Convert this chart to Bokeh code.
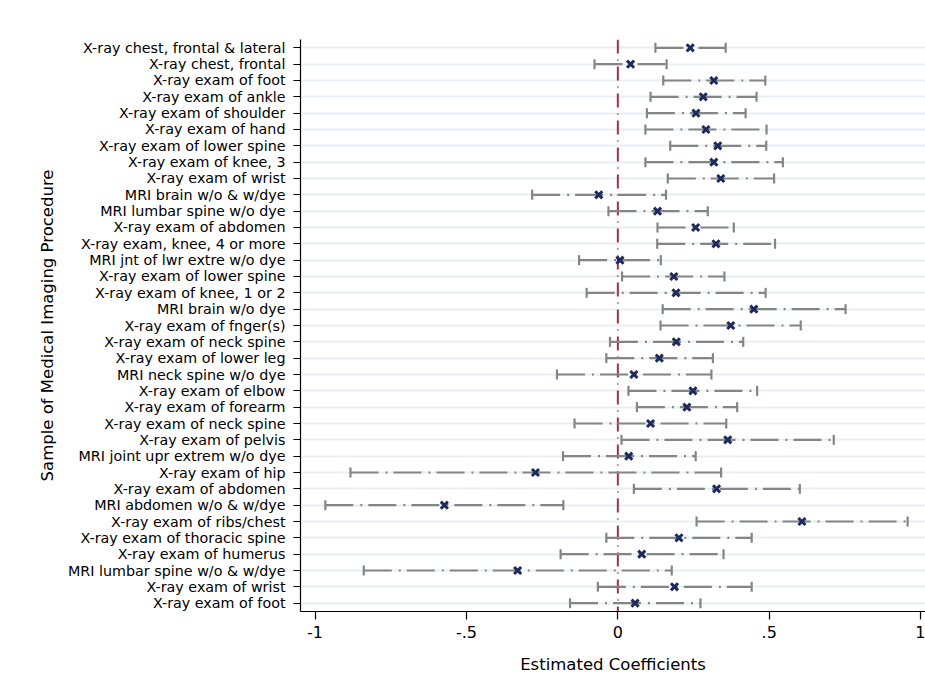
from bokeh.plotting import figure
from bokeh.models import (ColumnDataSource, Whisker, TeeHead, Span, Range1d,
                          FixedTicker, CustomJSTickFormatter)
from bokeh.embed import file_html
from bokeh.resources import INLINE

labels = [
    "X-ray chest, frontal & lateral",
    "X-ray chest, frontal",
    "X-ray exam of foot",
    "X-ray exam of ankle",
    "X-ray exam of shoulder",
    "X-ray exam of hand",
    "X-ray exam of lower spine",
    "X-ray exam of knee, 3",
    "X-ray exam of wrist",
    "MRI brain w/o & w/dye",
    "MRI lumbar spine w/o dye",
    "X-ray exam of abdomen",
    "X-ray exam, knee, 4 or more",
    "MRI jnt of lwr extre w/o dye",
    "X-ray exam of lower spine",
    "X-ray exam of knee, 1 or 2",
    "MRI brain w/o dye",
    "X-ray exam of fnger(s)",
    "X-ray exam of neck spine",
    "X-ray exam of lower leg",
    "MRI neck spine w/o dye",
    "X-ray exam of elbow",
    "X-ray exam of forearm",
    "X-ray exam of neck spine",
    "X-ray exam of pelvis",
    "MRI joint upr extrem w/o dye",
    "X-ray exam of hip",
    "X-ray exam of abdomen",
    "MRI abdomen w/o & w/dye",
    "X-ray exam of ribs/chest",
    "X-ray exam of thoracic spine",
    "X-ray exam of humerus",
    "MRI lumbar spine w/o & w/dye",
    "X-ray exam of wrist",
    "X-ray exam of foot",
]

coef = [0.239, 0.042, 0.317, 0.282, 0.258, 0.291, 0.330, 0.317, 0.340, -0.063,
        0.131, 0.257, 0.324, 0.007, 0.185, 0.192, 0.449, 0.373, 0.193, 0.137,
        0.053, 0.248, 0.228, 0.108, 0.363, 0.036, -0.272, 0.326, -0.573, 0.608,
        0.202, 0.079, -0.331, 0.187, 0.057]

ci_low = [0.124, -0.077, 0.150, 0.108, 0.096, 0.091, 0.173, 0.091, 0.165, -0.283,
          -0.031, 0.131, 0.130, -0.128, 0.014, -0.103, 0.148, 0.141, -0.026, -0.038,
          -0.201, 0.035, 0.063, -0.143, 0.012, -0.181, -0.883, 0.053, -0.966, 0.260,
          -0.038, -0.189, -0.839, -0.066, -0.158]

ci_high = [0.356, 0.161, 0.487, 0.458, 0.422, 0.491, 0.490, 0.545, 0.516, 0.159,
           0.297, 0.383, 0.519, 0.142, 0.352, 0.488, 0.752, 0.604, 0.414, 0.314,
           0.309, 0.460, 0.394, 0.358, 0.713, 0.257, 0.341, 0.601, -0.180, 0.957,
           0.442, 0.349, 0.178, 0.442, 0.273]

x_ticks = [-1, -0.5, 0, 0.5, 1]

n = len(labels)
ypos = [n - i for i in range(n)]

src = ColumnDataSource(dict(y=ypos, coef=coef, lo=ci_low, hi=ci_high))

FONT = "DejaVu Sans"
GRAY = "#858585"
NAVY = "#1c2b5c"

p = figure(width=925, height=700, output_backend="svg", toolbar_location=None,
           x_range=Range1d(-1.048, 1.016), y_range=Range1d(0.49, 35.51),
           min_border_left=300, min_border_top=39, min_border_bottom=89,
           min_border_right=0)
p.outline_line_color = None
p.background_fill_color = "white"
p.border_fill_color = "white"

# axes
p.xaxis.ticker = FixedTicker(ticks=x_ticks)
p.xaxis.formatter = CustomJSTickFormatter(
    code="if (tick == 0) { return '0'; } return tick.toString().replace('0.', '.');")
p.yaxis.ticker = FixedTicker(ticks=ypos)
p.yaxis.major_label_overrides = {y: lab for y, lab in zip(ypos, labels)}

for ax in (p.xaxis, p.yaxis):
    ax.axis_line_color = "black"
    ax.axis_line_width = 1.2
    ax.major_tick_line_color = "black"
    ax.major_tick_line_width = 1.2
    ax.minor_tick_line_color = None
    ax.major_tick_in = 0
    ax.major_label_text_font = FONT
    ax.major_label_text_color = "black"
    ax.axis_label_text_font = FONT
    ax.axis_label_text_font_style = "normal"
    ax.axis_label_text_color = "black"

p.xaxis.major_tick_out = 8
p.xaxis.major_label_text_font_size = "16px"
p.xaxis.major_label_standoff = 6
p.xaxis.axis_label = "Estimated Coefficients"
p.xaxis.axis_label_text_font_size = "16.5px"
p.xaxis.axis_label_standoff = 14

p.yaxis.major_tick_out = 7
p.yaxis.major_label_text_font_size = "14.3px"
p.yaxis.major_label_standoff = 8
p.yaxis.axis_label = "Sample of Medical Imaging Procedure"
p.yaxis.axis_label_text_font_size = "16.5px"
p.yaxis.axis_label_standoff = 8

p.xgrid.grid_line_color = None
p.ygrid.ticker = FixedTicker(ticks=ypos)
p.ygrid.grid_line_color = "#e8eff3"
p.ygrid.grid_line_width = 2

zero = Span(location=0, dimension="height", line_color="#a3323f",
            line_width=2, line_dash="14 6 1 6", level="underlay")
p.add_layout(zero)

head_kw = dict(size=10, line_color=GRAY, line_width=2.2)
wh = Whisker(source=src, base="y", lower="lo", upper="hi", dimension="width",
             line_color=GRAY, line_width=2.2, line_dash="28 7 2 6",
             lower_head=TeeHead(**head_kw), upper_head=TeeHead(**head_kw),
             level="underlay")
p.add_layout(wh)

p.scatter(x="coef", y="y", source=src, marker="x", size=10,
          line_color=NAVY, line_width=3)

html = file_html(p, INLINE)
open("out.html", "w").write(html)
